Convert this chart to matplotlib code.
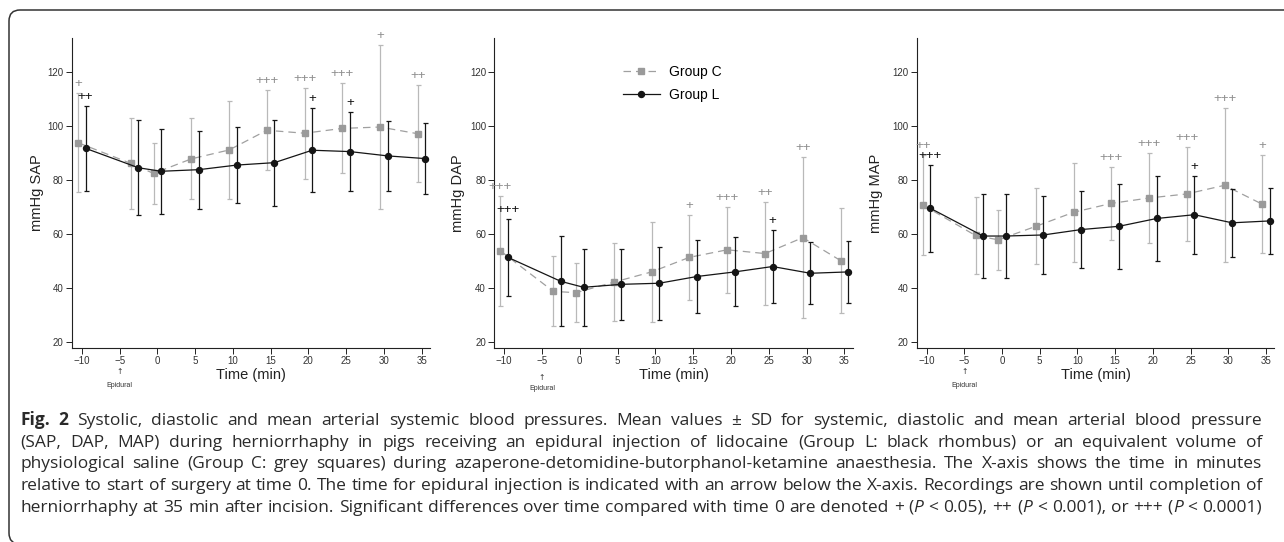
import re
import matplotlib
matplotlib.use("Agg")
import matplotlib.pyplot as plt
from matplotlib.patches import FancyBboxPatch
from matplotlib.transforms import IdentityTransform
from matplotlib.lines import Line2D

# ---------------- data ----------------
times = [-10, -3, 0, 5, 10, 15, 20, 25, 30, 35]

sap_c_mean = [93.7, 86.0, 82.3, 87.7, 91.0, 98.3, 97.2, 99.0, 99.5, 97.0]
sap_c_sd = [18.3, 16.9, 11.3, 15.0, 18.2, 14.8, 16.9, 16.7, 30.3, 17.9]
sap_l_mean = [91.6, 84.4, 83.1, 83.7, 85.4, 86.3, 90.9, 90.4, 88.8, 87.8]
sap_l_sd = [15.8, 17.6, 15.7, 14.4, 14.0, 15.9, 15.6, 14.5, 13.1, 13.3]

dap_c_mean = [53.6, 38.6, 38.1, 42.0, 45.8, 51.2, 54.0, 52.6, 58.5, 50.0]
dap_c_sd = [20.3, 13.0, 10.9, 14.4, 18.5, 15.8, 16.0, 19.0, 29.8, 19.4]
dap_l_mean = [51.2, 42.3, 40.1, 41.2, 41.6, 44.1, 45.8, 47.8, 45.3, 45.8]
dap_l_sd = [14.3, 16.7, 14.2, 13.1, 13.5, 13.5, 12.8, 13.4, 11.5, 11.6]

map_c_mean = [70.6, 59.3, 57.7, 62.7, 67.9, 71.2, 73.2, 74.7, 77.9, 70.9]
map_c_sd = [18.6, 14.3, 11.2, 14.1, 18.4, 13.5, 16.8, 17.4, 28.5, 18.2]
map_l_mean = [69.4, 59.1, 59.1, 59.5, 61.5, 62.7, 65.6, 67.0, 64.0, 64.7]
map_l_sd = [16.2, 15.4, 15.4, 14.4, 14.4, 15.7, 15.7, 14.4, 12.5, 12.3]

sap_c_sig = ['+', '', '', '', '', '+++', '+++', '+++', '+', '++']
sap_l_sig = ['++', '', '', '', '', '', '+', '+', '', '']
dap_c_sig = ['+++', '', '', '', '', '+', '+++', '++', '++', '']
dap_l_sig = ['+++', '', '', '', '', '', '', '+', '', '']
map_c_sig = ['++', '', '', '', '', '+++', '+++', '+++', '+++', '+']
map_l_sig = ['+++', '', '', '', '', '', '', '+', '', '']

ylabels = ['mmHg SAP', 'mmHg DAP', 'mmHg MAP']
xlabel = 'Time (min)'
series_names = ['Group C', 'Group L']
x_ticks = [-10, -5, 0, 5, 10, 15, 20, 25, 30, 35]
y_ticks = [20, 40, 60, 80, 100, 120]
epidural_time = -5
epidural_label = 'Epidural'

caption_lines = [
    "**Fig. 2** Systolic, diastolic and mean arterial systemic blood pressures. Mean values ± SD for systemic, diastolic and mean arterial blood pressure",
    "(SAP, DAP, MAP) during herniorrhaphy in pigs receiving an epidural injection of lidocaine (Group L: black rhombus) or an equivalent volume of",
    "physiological saline (Group C: grey squares) during azaperone-detomidine-butorphanol-ketamine anaesthesia. The X-axis shows the time in minutes",
    "relative to start of surgery at time 0. The time for epidural injection is indicated with an arrow below the X-axis. Recordings are shown until completion of",
    "herniorrhaphy at 35 min after incision. Significant differences over time compared with time 0 are denoted + (*P* < 0.05), ++ (*P* < 0.001), or +++ (*P* < 0.0001)",
]

# ---------------- figure ----------------
W, H = 1284, 542
fig = plt.figure(figsize=(W / 100, H / 100), dpi=100)
AX_FONT = ['Liberation Sans', 'DejaVu Sans']


def fx(px):
    return px / W


def fy(py):
    return 1 - py / H


# border
box = FancyBboxPatch((9, -2), 1320, 534, boxstyle="round,pad=0,rounding_size=11",
                     transform=IdentityTransform(), fill=False, ec='#333333', lw=1.1)
fig.patches.append(box)

panels = [
    dict(l=72, r=430, yl=ylabels[0], cm=sap_c_mean, cs=sap_c_sd, lm=sap_l_mean, ls=sap_l_sd,
         csig=sap_c_sig, lsig=sap_l_sig, ylx=-34.5, epi=(371.5, 385.5)),
    dict(l=494.3, r=852.7, yl=ylabels[1], cm=dap_c_mean, cs=dap_c_sd, lm=dap_l_mean, ls=dap_l_sd,
         csig=dap_c_sig, lsig=dap_l_sig, ylx=-36, epi=(377.5, 388)),
    dict(l=916.7, r=1274.3, yl=ylabels[2], cm=map_c_mean, cs=map_c_sd, lm=map_l_mean, ls=map_l_sd,
         csig=map_c_sig, lsig=map_l_sig, ylx=-41, epi=(371.5, 385.5)),
]

AX_TOP, AX_BOT = 38, 348
C_COL = '#a0a0a0'
C_BAR = '#b9b9b9'
L_COL = '#151515'

for k, p in enumerate(panels):
    ax = fig.add_axes([fx(p['l']), fy(AX_BOT), fx(p['r'] - p['l']), (AX_BOT - AX_TOP) / H])
    wpx = p['r'] - p['l']
    hpx = AX_BOT - AX_TOP
    xc = [t - 0.5 for t in times]
    xl = [t + 0.5 for t in times]

    ax.errorbar(xc, p['cm'], yerr=p['cs'], fmt='none', ecolor=C_BAR, elinewidth=0.9,
                capsize=1.8, capthick=0.9, zorder=2)
    ax.plot(xc, p['cm'], ls='--', dashes=(6, 4), color=C_COL, lw=0.9, marker='s', ms=4,
            mfc='#9a9a9a', mec='#9a9a9a', zorder=3)
    ax.errorbar(xl, p['lm'], yerr=p['ls'], fmt='none', ecolor=L_COL, elinewidth=0.9,
                capsize=1.8, capthick=0.9, zorder=4)
    ax.plot(xl, p['lm'], ls='-', color=L_COL, lw=0.9, marker='o', ms=4.3,
            mfc=L_COL, mec=L_COL, zorder=5)

    for xs, ms, sds, sig, col in [(xc, p['cm'], p['cs'], p['csig'], '#8f8f8f'),
                                  (xl, p['lm'], p['ls'], p['lsig'], '#111111')]:
        for i, s in enumerate(sig):
            if s:
                ax.annotate(s, xy=(xs[i], ms[i] + sds[i]), xytext=(0, 6.5),
                            textcoords='offset points', ha='center', va='center',
                            fontsize=9.5, color=col, family=AX_FONT,
                            annotation_clip=False, zorder=6)

    ax.set_xlim(-11.3, 36.1)
    ax.set_ylim(17.6, 132.5)
    ax.set_xticks(x_ticks)
    ax.set_yticks(y_ticks)
    for sp in ['top', 'right']:
        ax.spines[sp].set_visible(False)
    for sp in ['left', 'bottom']:
        ax.spines[sp].set_color('#222222')
        ax.spines[sp].set_linewidth(0.8)
    ax.tick_params(direction='out', length=4, width=0.7, labelsize=7,
                   labelcolor='#333333', color='#222222', pad=2)
    for lab in ax.get_xticklabels() + ax.get_yticklabels():
        lab.set_family(AX_FONT)

    ax.set_ylabel(p['yl'], fontsize=10.5, family=AX_FONT, color='#222222', va='center')
    ax.yaxis.set_label_coords(p['ylx'] / wpx, 0.5)
    ax.set_xlabel(xlabel, fontsize=10.5, family=AX_FONT, color='#222222', va='center')
    ax.xaxis.set_label_coords(0.5, -27 / hpx)

    tr = ax.get_xaxis_transform()
    ax.text(epidural_time, (AX_BOT - p['epi'][0]) / hpx, '↑', transform=tr, ha='center',
            va='center', fontsize=5.5, color='#333333', family=['DejaVu Sans'])
    ax.text(epidural_time, (AX_BOT - p['epi'][1]) / hpx, epidural_label, transform=tr,
            ha='center', va='center', fontsize=5, color='#333333', family=AX_FONT)

    if k == 1:
        handles = [Line2D([], [], ls='--', dashes=(6, 4), color=C_COL, lw=0.9, marker='s',
                          ms=4, mfc='#9a9a9a', mec='#9a9a9a'),
                   Line2D([], [], ls='-', color=L_COL, lw=0.9, marker='o', ms=4.3,
                          mfc=L_COL, mec=L_COL)]
        ax.legend(handles, series_names, loc='upper left', bbox_to_anchor=(0.359, 0.913),
                  frameon=False, borderpad=0, borderaxespad=0, handlelength=2.65,
                  handletextpad=0.65, labelspacing=0.64, prop={'family': AX_FONT, 'size': 10})

# ---------------- caption (justified) ----------------
fig.canvas.draw()
renderer = fig.canvas.get_renderer()
CAP_COL = '#2a2a2a'
CAP_FONT = ['Open Sans', 'DejaVu Sans']
x_left, x_right = 20, 1262
baselines = [425, 446.7, 468.4, 490.1, 511.8]


def seg_props(b, it, fs):
    return dict(fontsize=fs, family=CAP_FONT, weight='bold' if b else 'normal',
                style='italic' if it else 'normal', color=CAP_COL)


def text_width(s, b, it, fs):
    t = fig.text(0, 0, s, **seg_props(b, it, fs))
    wdt = t.get_window_extent(renderer).width
    t.remove()
    return wdt


# find font size so that the widest line (with normal spaces) fits the column
base_fs = 11
plain = [re.sub(r'\*', '', ln) for ln in caption_lines]
widest = max(text_width(ln, False, False, base_fs) for ln in plain)
CAP_FS = base_fs * (x_right - x_left) * 0.995 / widest

state = {'b': False, 'i': False}
for line, base in zip(caption_lines, baselines):
    words = []
    for w in line.split(' '):
        segs = []
        for part in re.split(r'(\*\*|\*)', w):
            if part == '**':
                state['b'] = not state['b']
            elif part == '*':
                state['i'] = not state['i']
            elif part:
                segs.append((part, state['b'], state['i']))
        words.append(segs)
    measured = []
    total = 0
    for segs in words:
        ms = []
        for s, b, it in segs:
            wdt = text_width(s, b, it, CAP_FS)
            ms.append((s, b, it, wdt))
            total += wdt
        measured.append(ms)
    gap = (x_right - x_left - total) / max(len(measured) - 1, 1)
    x = x_left
    for ms in measured:
        for s, b, it, wdt in ms:
            fig.text(fx(x), fy(base), s, ha='left', va='baseline', **seg_props(b, it, CAP_FS))
            x += wdt
        x += gap

fig.savefig('out.png', dpi=100)
